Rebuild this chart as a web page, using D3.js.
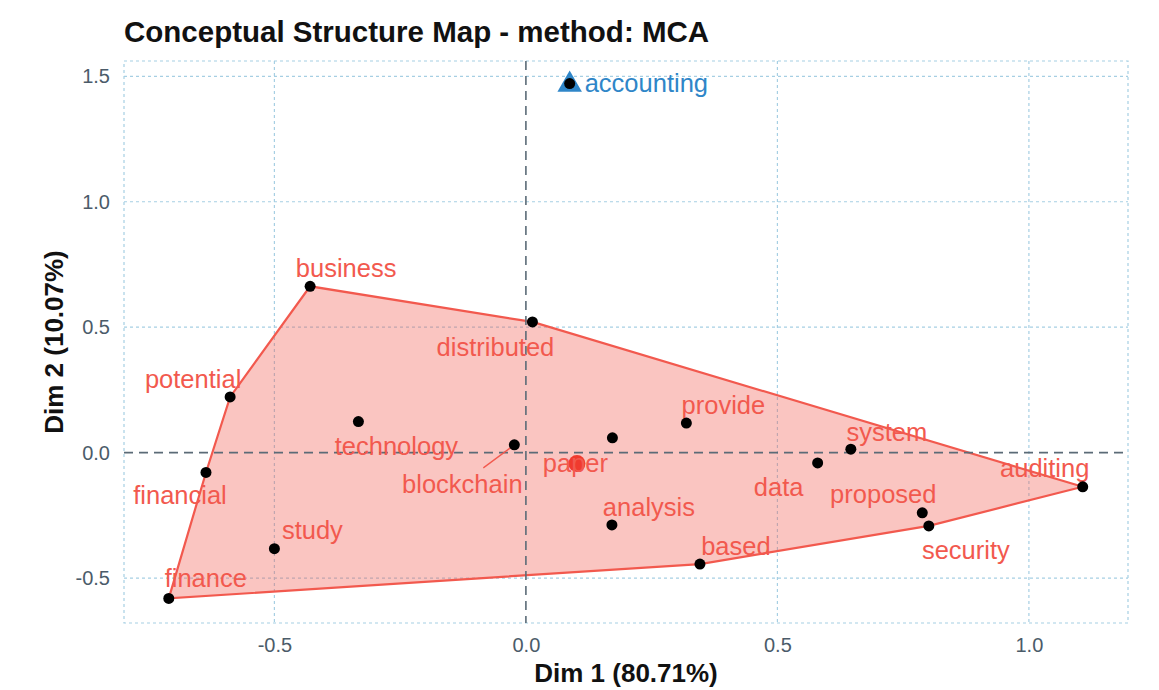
<!DOCTYPE html>
<html>
<head>
<meta charset="utf-8">
<script src="https://cdn.jsdelivr.net/npm/d3@7"></script>
<style>
  body { margin: 0; background: #fff; }
  text { font-family: "Liberation Sans", Arial, sans-serif; }
</style>
</head>
<body>
<svg id="chart" width="1159" height="690"></svg>
<script>
// words of the cluster (red) and their MCA coordinates
const words = ["business", "distributed", "potential", "technology", "blockchain", "paper", "provide", "data", "system", "auditing", "proposed", "security", "analysis", "based", "study", "financial", "finance"]
const dim1 = [-0.429, 0.013, -0.588, -0.333, -0.023, 0.172, 0.319, 0.580, 0.646, 1.107, 0.788, 0.801, 0.171, 0.346, -0.500, -0.636, -0.710]
const dim2 = [0.663, 0.521, 0.222, 0.124, 0.031, 0.059, 0.118, -0.041, 0.014, -0.136, -0.240, -0.292, -0.288, -0.444, -0.383, -0.079, -0.581]

// second cluster (blue) with a single word
const words2 = ["accounting"]
const dim1b = [0.087]
const dim2b = [1.471]

const xTicks = [-0.5, 0.0, 0.5, 1.0]
const yTicks = [-0.5, 0.0, 0.5, 1.0, 1.5]

// where the repelled labels sit, in px from their point
const labelOffsets = {
  business: [36, -18], distributed: [-37, 25], potential: [-37, -18], technology: [38, 25],
  blockchain: [-52, 39], paper: [-37, 25], provide: [37, -18], data: [-39, 24],
  system: [36, -17], auditing: [-38, -19], proposed: [-39, -19], security: [37, 24],
  analysis: [37, -18], based: [36, -18], study: [38, -19], financial: [-26, 23], finance: [37, -20]
}

const red = "#f2594e"
const blue = "#2f86c8"

const svg = d3.select("#chart")
const pLeft = 124, pRight = 1128, pTop = 61, pBottom = 623

const x = d3.scaleLinear().domain([-0.799, 1.197]).range([pLeft, pRight])
const y = d3.scaleLinear().domain([-0.679, 1.561]).range([pBottom, pTop])

// title
svg.append("text")
  .attr("x", 124).attr("y", 42)
  .attr("font-size", 29.5).attr("font-weight", "bold")
  .attr("fill", "#111")
  .text("Conceptual Structure Map - method: MCA")

// grid
const grid = svg.append("g")
grid.selectAll(".gx").data(xTicks.filter(d => d !== 0)).enter().append("line")
  .attr("x1", d => x(d)).attr("x2", d => x(d))
  .attr("y1", pTop).attr("y2", pBottom)
  .attr("stroke", "#a6cfe3").attr("stroke-width", 1.2).attr("stroke-dasharray", "3,3")
grid.selectAll(".gy").data(yTicks.filter(d => d !== 0)).enter().append("line")
  .attr("x1", pLeft).attr("x2", pRight)
  .attr("y1", d => y(d)).attr("y2", d => y(d))
  .attr("stroke", "#a6cfe3").attr("stroke-width", 1.2).attr("stroke-dasharray", "3,3")
grid.append("rect")
  .attr("x", pLeft).attr("y", pTop).attr("width", pRight - pLeft).attr("height", pBottom - pTop)
  .attr("fill", "none").attr("stroke", "#a6cfe3").attr("stroke-width", 1.2).attr("stroke-dasharray", "3,3")

// axes (labels only, like ggplot)
const fmt = d => d3.format(".1f")(d).replace("−", "-")
const xAxis = d3.axisBottom(x).tickValues(xTicks).tickFormat(fmt).tickSize(0).tickPadding(15)
const yAxis = d3.axisLeft(y).tickValues(yTicks).tickFormat(fmt).tickSize(0).tickPadding(14)
const gx = svg.append("g").attr("transform", `translate(0,${pBottom})`).call(xAxis)
const gy = svg.append("g").attr("transform", `translate(${pLeft},0)`).call(yAxis)
;[gx, gy].forEach(g => {
  g.select(".domain").remove()
  g.selectAll("text").attr("font-size", 20).attr("fill", "#4b5b69")
    .attr("font-family", "Liberation Sans, Arial, sans-serif")
})

svg.append("text")
  .attr("x", (pLeft + pRight) / 2).attr("y", 682)
  .attr("text-anchor", "middle").attr("font-size", 26).attr("font-weight", "bold")
  .attr("fill", "#111")
  .text("Dim 1 (80.71%)")
svg.append("text")
  .attr("transform", `translate(63,${(pTop + pBottom) / 2}) rotate(-90)`)
  .attr("text-anchor", "middle").attr("font-size", 26).attr("font-weight", "bold")
  .attr("fill", "#111")
  .text("Dim 2 (10.07%)")

// cluster hull
const pts = words.map((w, i) => [x(dim1[i]), y(dim2[i])])
const hull = d3.polygonHull(pts)
svg.append("path")
  .attr("d", "M" + hull.join("L") + "Z")
  .attr("fill", red).attr("fill-opacity", 0.35)
  .attr("stroke", red).attr("stroke-width", 2.2)

// zero lines on top of the fill
svg.append("line")
  .attr("x1", x(0)).attr("x2", x(0)).attr("y1", pTop).attr("y2", pBottom)
  .attr("stroke", "#5b6b77").attr("stroke-width", 1.6).attr("stroke-dasharray", "9,6")
svg.append("line")
  .attr("x1", pLeft).attr("x2", pRight).attr("y1", y(0)).attr("y2", y(0))
  .attr("stroke", "#5b6b77").attr("stroke-width", 1.6).attr("stroke-dasharray", "9,6")

// centroid of the cluster
svg.append("circle")
  .attr("cx", x(d3.mean(dim1))).attr("cy", y(d3.mean(dim2)))
  .attr("r", 8.5).attr("fill", "#f03a2e")

// blockchain leader line
const bi = words.indexOf("blockchain")
svg.append("line")
  .attr("x1", x(dim1[bi]) - 31).attr("y1", y(dim2[bi]) + 23)
  .attr("x2", x(dim1[bi]) - 4).attr("y2", y(dim2[bi]) + 3)
  .attr("stroke", red).attr("stroke-width", 1.3)

// labels
svg.selectAll(".lab").data(words).enter().append("text")
  .attr("x", (d, i) => x(dim1[i]) + labelOffsets[d][0])
  .attr("y", (d, i) => y(dim2[i]) + labelOffsets[d][1])
  .attr("dy", "0.35em")
  .attr("text-anchor", "middle")
  .attr("font-size", 25.5)
  .attr("fill", red)
  .text(d => d)

// points
svg.selectAll(".pt").data(words).enter().append("circle")
  .attr("cx", (d, i) => x(dim1[i])).attr("cy", (d, i) => y(dim2[i]))
  .attr("r", 5.5).attr("fill", "#000")

// accounting cluster: triangle centroid + point + label
words2.forEach((w, i) => {
  const cx = x(dim1b[i]), cy = y(dim2b[i])
  svg.append("path")
    .attr("d", d3.symbol().type(d3.symbolTriangle).size(260)())
    .attr("transform", `translate(${cx},${cy + 1})`)
    .attr("fill", blue)
  svg.append("circle").attr("cx", cx).attr("cy", cy).attr("r", 5.5).attr("fill", "#000")
  svg.append("text")
    .attr("x", cx + 15).attr("y", cy - 1).attr("dy", "0.35em")
    .attr("font-size", 25.5).attr("fill", blue)
    .text(w)
})
</script>
</body>
</html>
